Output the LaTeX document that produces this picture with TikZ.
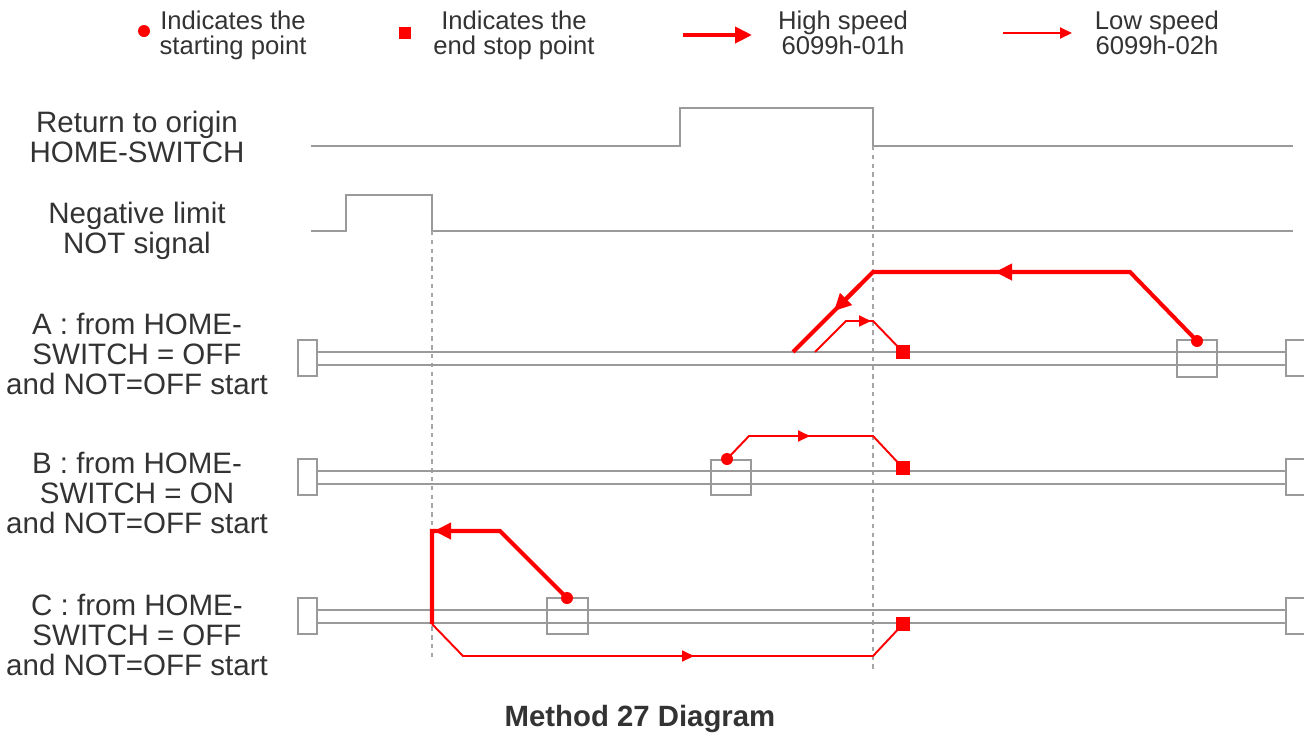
\documentclass[tikz,border=0pt]{standalone}
\usepackage{fontspec}
\setmainfont{Liberation Sans}
\usetikzlibrary{arrows.meta}
\definecolor{hired}{HTML}{FF0000}
\definecolor{railgray}{HTML}{9A9A9A}
\definecolor{guidegray}{HTML}{A6A6A6}
\definecolor{textgray}{HTML}{333333}

\begin{document}
\begin{tikzpicture}[
    x=0.02cm, y=-0.02cm,
    sig/.style={railgray, line width=0.7pt},
    guide/.style={dash pattern=on 2.5pt off 2.5pt, guidegray, line width=0.6pt},
    hi/.style={hired, line width=2.3pt},
    lo/.style={hired, line width=1.1pt},
    hitip/.style={-{Triangle[length=3.4mm,width=3.2mm]}},
    lotip/.style={-{Triangle[length=2.4mm,width=2.2mm]}},
    startdot/.style={circle, fill=hired, inner sep=0pt, minimum size=0.24cm},
    endsq/.style={rectangle, fill=hired, inner sep=0pt, minimum size=0.27cm},
    lbl/.style={font=\fontsize{16.8}{17}\selectfont, text=textgray, align=center, inner sep=0pt, anchor=base},
    leg/.style={font=\fontsize{14.6}{13.7}\selectfont, text=textgray, align=center, inner sep=0pt, anchor=base}
  ]
  \useasboundingbox (0,0) rectangle (1304,735);

  % Legend
  \node[startdot] (legdot) at (144,31) {};
  \node[leg] (legstart) at (233,54) {Indicates the\\starting point};
  \node[endsq, minimum size=0.24cm] (legsq) at (405,33) {};
  \node[leg] (legend) at (514,54) {Indicates the\\end stop point};
  \coordinate (leghi0) at (683,35);
  \coordinate (leghi1) at (752,35);
  \draw[hi, hitip] (leghi0) -- (leghi1);
  \node[leg] (leghigh) at (843,54) {High speed\\6099h-01h};
  \coordinate (leglo0) at (1003,33);
  \coordinate (leglo1) at (1072,33);
  \draw[lo, lotip] (leglo0) -- (leglo1);
  \node[leg] (leglow) at (1157,54) {Low speed\\6099h-02h};

  % Signal labels
  \node[lbl] (homelbl) at (137,162) {Return to origin\\HOME-SWITCH};
  \node[lbl] (notlbl) at (137,253) {Negative limit\\NOT signal};
  \node[lbl] (rowalbl) at (137,394) {A : from HOME-\\SWITCH = OFF\\and NOT=OFF start};
  \node[lbl] (rowblbl) at (137,533) {B : from HOME-\\SWITCH = ON\\and NOT=OFF start};
  \node[lbl] (rowclbl) at (137,675) {C : from HOME-\\SWITCH = OFF\\and NOT=OFF start};

  % Signals
  \draw[sig] (311,146) -- (680,146) -- (680,108) -- (873,108) -- (873,146) -- (1293,146);
  \draw[sig] (311,231) -- (346,231) -- (346,195) -- (432,195) -- (432,231) -- (1293,231);

  % Guides
  \draw[guide] (432,231) -- (432,660);
  \draw[guide] (873,146) -- (873,670);

  % Rails with end stops
  \foreach \ytop/\ybot in {352/365, 471/484, 610/623} {
    \draw[sig] (317,\ytop) -- (1286,\ytop);
    \draw[sig] (317,\ybot) -- (1286,\ybot);
    \draw[sig] (298,\ytop-12) rectangle (317,\ybot+11);
    \draw[sig] (1304,\ytop-12) -| (1286,\ybot+11) -- (1304,\ybot+11);
  }

  % Start boxes
  \draw[sig] (1177,340) rectangle (1217,377);
  \draw[sig] (711,460) rectangle (751,495);
  \draw[sig] (547,598) rectangle (588,634);

  % Row A
  \node[startdot] (dota) at (1197,341) {};
  \node[endsq] (sqa) at (903,352) {};
  \draw[hi] (dota.center) -- (1130,272) -- (873,272) -- (793,352);
  \draw[hi, hitip] (1030,272) -- (995,272);
  \draw[hi, hitip] (860,285) -- (834,311);
  \draw[lo] (815,352) -- (846,321) -- (873,321) -- (sqa.center);
  \draw[lo, lotip] (850,321) -- (871,321);

  % Row B
  \node[startdot] (dotb) at (727,459) {};
  \node[endsq] (sqb) at (903,468) {};
  \draw[lo] (dotb.center) -- (749,436) -- (873,436) -- (sqb.center);
  \draw[lo, lotip] (785,436) -- (810,436);

  % Row C
  \node[startdot] (dotc) at (567,598) {};
  \node[endsq] (sqc) at (903,624) {};
  \draw[hi] (dotc.center) -- (500,531) -- (432,531) -- (432,624);
  \draw[hi, hitip] (470,531) -- (434,531);
  \draw[lo] (432,624) -- (463,656) -- (873,656) -- (sqc.center);
  \draw[lo, lotip] (670,656) -- (694,656);

  % Title
  \node[font=\bfseries\fontsize{16.7}{18}\selectfont, text=textgray, inner sep=0pt] (title) at (640,719) {Method 27 Diagram};
\end{tikzpicture}
\end{document}
